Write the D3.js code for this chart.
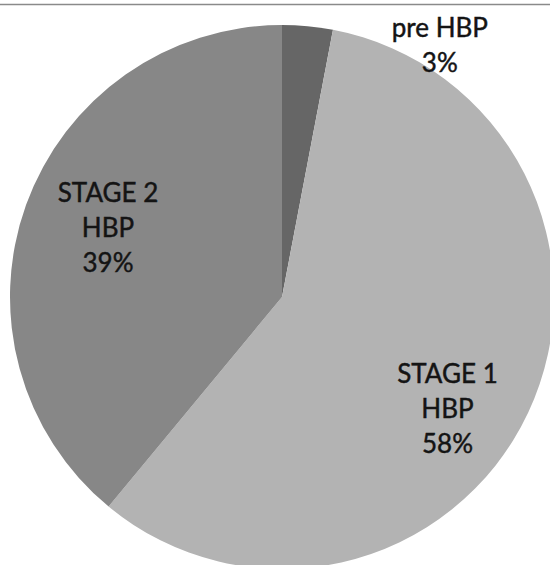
<!DOCTYPE html>
<html>
<head>
<meta charset="utf-8">
<script src="https://cdn.jsdelivr.net/npm/d3@7"></script>
<style>
  html, body { margin: 0; padding: 0; background: #ffffff; }
  svg { display: block; }
</style>
</head>
<body>
<svg id="chart" width="550" height="565"></svg>
<script>
// Blood pressure categories and their shares (%)
const categories = ["pre HBP", "STAGE 1 HBP", "STAGE 2 HBP"];
const shares = [3, 58, 39];
const labelLines = [["pre HBP"], ["STAGE 1", "HBP"], ["STAGE 2", "HBP"]];

const width = 550, height = 565;
const cx = 282, cy = 297, radius = 272;

const color = d3.scaleOrdinal()
  .domain(categories)
  .range(["#666666", "#b3b3b3", "#878787"]);

// label placement: polar position (degrees clockwise from 12 o'clock, distance from centre)
const labelLayout = [
  { angle: 32.1, r: 297 },
  { angle: 124.0, r: 199.6 },
  { angle: 291.8, r: 187.4 }
];

const svg = d3.select("#chart");

// thin rule along the top edge
svg.append("line")
  .attr("x1", 0).attr("x2", width)
  .attr("y1", 4.5).attr("y2", 4.5)
  .attr("stroke", "#8a8a8a")
  .attr("stroke-width", 1.6);

const data = categories.map((c, i) => ({ category: c, value: shares[i], lines: labelLines[i] }));

const pie = d3.pie().value(d => d.value).sort(null);
const arc = d3.arc().innerRadius(0).outerRadius(radius);

const g = svg.append("g").attr("transform", `translate(${cx},${cy})`);

const arcs = pie(data);

g.selectAll("path.slice")
  .data(arcs)
  .join("path")
  .attr("class", "slice")
  .attr("d", arc)
  .attr("fill", d => color(d.data.category));

const lineH = 35;
const fontSize = 26;

const labels = g.selectAll("g.label")
  .data(arcs)
  .join("g")
  .attr("class", "label")
  .attr("transform", (d, i) => {
    const p = d3.pointRadial(labelLayout[i].angle * Math.PI / 180, labelLayout[i].r);
    return `translate(${p[0]},${p[1]})`;
  });

labels.each(function(d) {
  const lines = d.data.lines.concat([`${d.data.value}%`]);
  const n = lines.length;
  const capMid = fontSize * 0.36;
  const sel = d3.select(this).append("text")
    .attr("text-anchor", "middle")
    .attr("font-family", "Lato, 'Open Sans', sans-serif")
    .attr("font-size", fontSize)
    .attr("fill", "#141414")
    .attr("stroke", "#141414")
    .attr("stroke-width", 0.45);
  lines.forEach((t, k) => {
    sel.append("tspan")
      .attr("x", 0)
      .attr("y", (k - (n - 1) / 2) * lineH + capMid)
      .text(t);
  });
});
</script>
</body>
</html>
